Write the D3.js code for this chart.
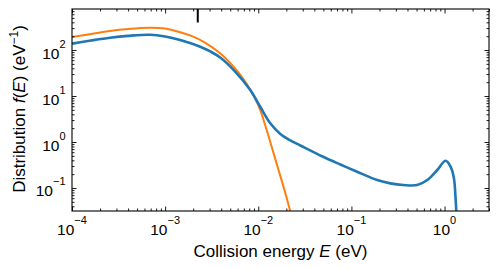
<!DOCTYPE html>
<html><head><meta charset="utf-8">
<script src="https://cdn.jsdelivr.net/npm/d3@7"></script>
<style>
body{margin:0;background:#fff}
svg{display:block}
text{font-family:"Liberation Sans",Arial,Helvetica,sans-serif;fill:#000}
</style>
</head><body>
<svg id="c" width="498" height="269"></svg>
<script>
// ---- data ----
const blueE = [1e-4, 1.6e-4, 2.56e-4, 4e-4, 6.9e-4, 1.0e-3, 1.45e-3, 2.38e-3, 3.05e-3, 3.9e-3, 5.4e-3, 8.2e-3,
  0.0105, 0.01346, 0.01725, 0.0221, 0.0283, 0.0503, 0.0762, 0.115, 0.189, 0.262, 0.362, 0.508, 0.652, 0.834,
  1.025, 1.16, 1.26, 1.31, 1.35];
const blueF = [138, 161, 185, 203, 215, 197, 165, 118, 93, 69, 37.5, 13.5,
  5.85, 2.55, 1.49, 1.08, 0.84, 0.472, 0.324, 0.226, 0.149, 0.126, 0.116, 0.116, 0.149, 0.246,
  0.39, 0.29, 0.163, 0.065, 0.02];
const orangeE = [1e-4, 1.6e-4, 2.56e-4, 4e-4, 6.9e-4, 1.0e-3, 1.45e-3, 2.0e-3, 2.62e-3, 3.9e-3, 5.38e-3, 7.35e-3,
  9.06e-3, 0.0105, 0.0124, 0.0159, 0.0195, 0.0217, 0.02265];
const orangeF = [192, 223, 259, 286, 305, 293, 243, 195, 149, 85.2, 44.5, 19.7,
  9.51, 4.96, 1.73, 0.316, 0.0778, 0.0349, 0.0246];
const markerE = [2.24e-3];
const xTickExp = [-4, -3, -2, -1, 0];
const yTickExp = [-1, 0, 1, 2];
const xDomain = [1e-4, 3.0];
const yDomain = [0.0316, 780];

// ---- layout ----
const W = 498, H = 269, m = {l: 72, r: 9, t: 9, b: 58};
const svg = d3.select("#c");
const x = d3.scaleLog().domain(xDomain).range([m.l, W - m.r]);
const y = d3.scaleLog().domain(yDomain).range([H - m.b, m.t]);

function minors(dom) {
  const out = [];
  for (let d = Math.floor(Math.log10(dom[0])); d <= Math.ceil(Math.log10(dom[1])); d++)
    for (let k = 2; k <= 9; k++) {
      const v = k * Math.pow(10, d);
      if (v >= dom[0] && v <= dom[1]) out.push(v);
    }
  return out;
}
const xMajor = xTickExp.map(e => Math.pow(10, e));
const yMajor = yTickExp.map(e => Math.pow(10, e));
const xMinor = minors(xDomain), yMinor = minors(yDomain);

svg.append("defs").append("clipPath").attr("id", "clip")
  .append("rect").attr("x", m.l).attr("y", m.t).attr("width", W - m.l - m.r).attr("height", H - m.t - m.b);

// lines
const line = (E, F) => d3.line().x((d, i) => x(E[i])).y((d, i) => y(F[i])).curve(d3.curveCatmullRom.alpha(0.5))(E);
const g = svg.append("g").attr("clip-path", "url(#clip)");
g.append("path").attr("d", line(orangeE, orangeF)).attr("fill", "none").attr("stroke", "#ff7f0e").attr("stroke-width", 2);
g.append("path").attr("d", line(blueE, blueF)).attr("fill", "none").attr("stroke", "#1f77b4").attr("stroke-width", 2.6);

// marker at top
svg.selectAll(".mk").data(markerE).join("line").attr("class", "mk")
  .attr("x1", d => x(d)).attr("x2", d => x(d)).attr("y1", m.t).attr("y2", m.t + 13.5)
  .attr("stroke", "#000").attr("stroke-width", 2);

// axes (inward ticks)
function styleAxis(sel) {
  sel.select(".domain").remove();
  sel.selectAll(".tick line").attr("stroke", "#000").attr("stroke-width", 0.9);
  sel.selectAll(".tick text").remove();
}
const MJ = -4.5, MN = -2.5;
[[d3.axisBottom, H - m.b], [d3.axisTop, m.t]].forEach(([ax, pos]) => {
  svg.append("g").attr("transform", `translate(0,${pos})`).call(ax(x).tickValues(xMajor).tickSize(MJ)).call(styleAxis);
  svg.append("g").attr("transform", `translate(0,${pos})`).call(ax(x).tickValues(xMinor).tickSize(MN)).call(styleAxis);
});
[[d3.axisLeft, m.l], [d3.axisRight, W - m.r]].forEach(([ax, pos]) => {
  svg.append("g").attr("transform", `translate(${pos},0)`).call(ax(y).tickValues(yMajor).tickSize(MJ)).call(styleAxis);
  svg.append("g").attr("transform", `translate(${pos},0)`).call(ax(y).tickValues(yMinor).tickSize(MN)).call(styleAxis);
});

// frame
svg.append("rect").attr("x", m.l).attr("y", m.t).attr("width", W - m.l - m.r).attr("height", H - m.t - m.b)
  .attr("fill", "none").attr("stroke", "#000").attr("stroke-width", 1.1);

// tick labels
function sup(t, e) {
  t.append("tspan").text("10");
  t.append("tspan").attr("font-size", "11px").attr("dy", -11).text(String(e).replace("-", "\u2212"));
}
svg.selectAll(".xl").data(xTickExp).join("text").attr("class", "xl")
  .attr("x", e => x(Math.pow(10, e))).attr("y", H - m.b + 24).attr("text-anchor", "middle")
  .attr("font-size", "15.5px").each(function (e) { sup(d3.select(this), e); });
svg.selectAll(".yl").data(yTickExp).join("text").attr("class", "yl")
  .attr("x", m.l - 6.5).attr("y", e => y(Math.pow(10, e)) + 8.5).attr("text-anchor", "end")
  .attr("font-size", "15.5px").each(function (e) { sup(d3.select(this), e); });

// axis titles
const xt = svg.append("text").attr("x", (m.l + W - m.r) / 2).attr("y", 256.5).attr("text-anchor", "middle").attr("font-size", "17px");
xt.append("tspan").text("Collision energy ");
xt.append("tspan").attr("font-style", "italic").text("E");
xt.append("tspan").text(" (eV)");

const yt = svg.append("text").attr("transform", "translate(25,109) rotate(-90)").attr("text-anchor", "middle").attr("font-size", "17px");
yt.append("tspan").text("Distribution ");
yt.append("tspan").attr("font-style", "italic").text("f");
yt.append("tspan").text("(");
yt.append("tspan").attr("font-style", "italic").text("E");
yt.append("tspan").text(") (eV");
yt.append("tspan").attr("font-size", "12px").attr("dy", -7).text("\u22121");
yt.append("tspan").attr("dy", 7).text(")");
</script>
</body></html>
